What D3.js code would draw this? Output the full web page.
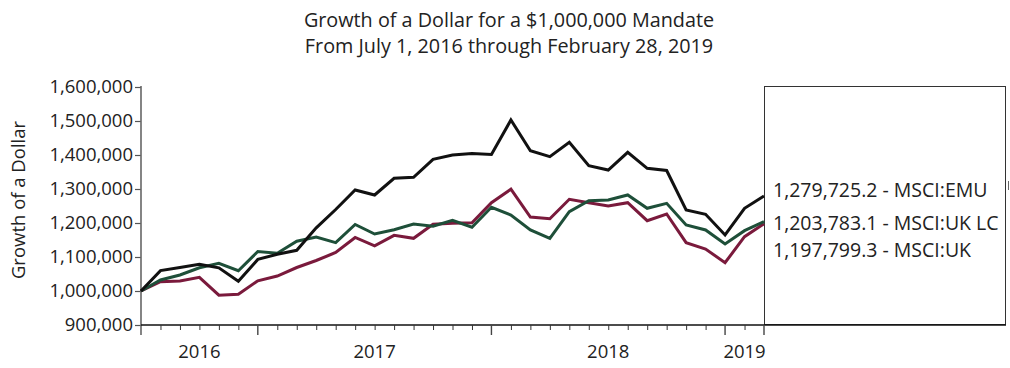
<!DOCTYPE html>
<html>
<head>
<meta charset="utf-8">
<script src="https://cdn.jsdelivr.net/npm/d3@7"></script>
<style>
  html, body { margin: 0; padding: 0; background: #fff; }
  svg { display: block; }
  text { font-family: "Open Sans", "DejaVu Sans", sans-serif; fill: #222; }
</style>
</head>
<body>
<svg id="chart" width="1010" height="368"></svg>
<script>
// ---- Data ----
const months = ["2016-07-01","2016-07","2016-08","2016-09","2016-10","2016-11","2016-12",
  "2017-01","2017-02","2017-03","2017-04","2017-05","2017-06","2017-07","2017-08","2017-09","2017-10","2017-11","2017-12",
  "2018-01","2018-02","2018-03","2018-04","2018-05","2018-06","2018-07","2018-08","2018-09","2018-10","2018-11","2018-12",
  "2019-01","2019-02"];
const emu = [1000000,1060000,1069000,1078500,1068000,1028500,1093000,1108000,1119700,1185900,1239700,1297000,1282400,
  1331500,1334400,1387400,1400000,1404400,1401500,1502900,1412600,1395000,1437400,1368500,1355900,1407900,1360900,
  1354400,1238200,1225600,1164700,1243200,1279725.2];
const ukLc = [1000000,1032400,1047100,1068200,1081500,1059700,1116200,1110900,1146500,1158800,1142100,1195600,1167600,
  1180300,1197100,1190600,1207900,1187400,1246200,1223500,1179400,1155000,1233200,1265600,1267600,1282400,1243200,
  1257900,1194100,1179400,1138200,1177400,1203783.1];
const uk = [1000000,1027400,1029400,1040300,987600,990600,1030000,1044100,1069100,1089700,1113200,1157400,1132900,
  1163800,1155000,1196500,1199100,1200600,1259700,1299400,1217600,1212400,1269700,1259700,1250000,1259700,1206800,
  1226500,1142100,1123500,1083200,1159700,1197799.3];
const seriesNames = ["MSCI:EMU","MSCI:UK LC","MSCI:UK"];
const seriesColors = ["#111111","#1e4f39","#7a1a3c"];
const yTicks = [900000,1000000,1100000,1200000,1300000,1400000,1500000,1600000];
const years = ["2016","2017","2018","2019"];
const yearStarts = [0, 6, 18, 30];     // month index where each year begins
const axisEnd = 32;
const titleLines = ["Growth of a Dollar for a $1,000,000 Mandate","From July 1, 2016 through February 28, 2019"];
const yTitle = "Growth of a Dollar";

// ---- Layout ----
const svg = d3.select("#chart");
const x0 = 141, x1 = 764, yTop = 87, yBot = 325;
const x = d3.scaleLinear().domain([0, axisEnd]).range([x0, x1]);
const y = d3.scaleLinear().domain([900000, 1600000]).range([yBot, yTop]);

// Titles
svg.selectAll("text.title").data(titleLines).enter().append("text")
  .attr("class","title")
  .attr("x", 509).attr("y", (d,i) => 27 + i*26)
  .attr("text-anchor","middle")
  .style("font-size","19.8px")
  .text(d => d);

// Y axis title
svg.append("text")
  .attr("transform","translate(25,200) rotate(-90)")
  .attr("text-anchor","middle")
  .style("font-size","18.5px")
  .text(yTitle);

// Y axis
const yAxis = d3.axisLeft(y).tickValues(yTicks).tickSize(6).tickPadding(2)
  .tickFormat(d3.format(","));
const gy = svg.append("g").attr("transform", `translate(${x0},0)`).call(yAxis);
gy.select(".domain").remove();
gy.selectAll(".tick line").attr("stroke","#555").attr("stroke-width",1.2);
gy.selectAll(".tick text").style("font-size","18.5px").style("font-family","\"Open Sans\", sans-serif").attr("fill","#222");
svg.append("line").attr("x1",x0).attr("x2",x0).attr("y1",yTop-1).attr("y2",335)
  .attr("stroke","#666").attr("stroke-width",1.6);

// Legend box
svg.append("rect").attr("x",764.5).attr("y",86.5).attr("width",241).attr("height",238)
  .attr("fill","none").attr("stroke","#333").attr("stroke-width",1);
svg.append("line").attr("x1",1008.5).attr("x2",1008.5).attr("y1",181).attr("y2",190)
  .attr("stroke","#666").attr("stroke-width",1);

// X axis
svg.append("line").attr("x1",x0).attr("x2",1006).attr("y1",yBot).attr("y2",yBot)
  .attr("stroke","#111").attr("stroke-width",1.3);
const minorTicks = d3.range(1, axisEnd).filter(i => !yearStarts.includes(i));
const xAxis = d3.axisBottom(x).tickValues(minorTicks).tickSize(5).tickFormat("");
const gx = svg.append("g").attr("transform",`translate(0,${yBot})`).call(xAxis);
gx.select(".domain").remove();
gx.selectAll(".tick line").attr("stroke","#333").attr("stroke-width",1);
const majorTicks = yearStarts.slice(1).concat([axisEnd]);
svg.selectAll("line.major").data(majorTicks).enter().append("line").attr("class","major")
  .attr("x1",d=>x(d)).attr("x2",d=>x(d)).attr("y1",yBot).attr("y2",335)
  .attr("stroke","#444").attr("stroke-width",1.4);

// Year labels
const bounds = yearStarts.concat([axisEnd]);
svg.selectAll("text.year").data(years).enter().append("text").attr("class","year")
  .attr("x",(d,i)=> (x(bounds[i]) + x(bounds[i+1]))/2)
  .attr("y",358)
  .attr("text-anchor","middle")
  .style("font-size","18.5px")
  .text(d=>d);

// Lines
const allSeries = [emu, ukLc, uk];
const line = d3.line().x((d,i)=>x(i)).y(d=>y(d));
[2,1,0].forEach(k => {
  svg.append("path").datum(allSeries[k])
    .attr("fill","none").attr("stroke",seriesColors[k]).attr("stroke-width",3)
    .attr("stroke-linejoin","miter").attr("d",line);
});

// End labels
const labelY = [197, 229.5, 257];
svg.selectAll("text.endlab").data(seriesNames).enter().append("text").attr("class","endlab")
  .attr("x",773).attr("y",(d,i)=>labelY[i])
  .style("font-size","19.5px")
  .text((d,i)=> d3.format(",.1f")(allSeries[i][allSeries[i].length-1]) + " - " + d);
</script>
</body>
</html>
